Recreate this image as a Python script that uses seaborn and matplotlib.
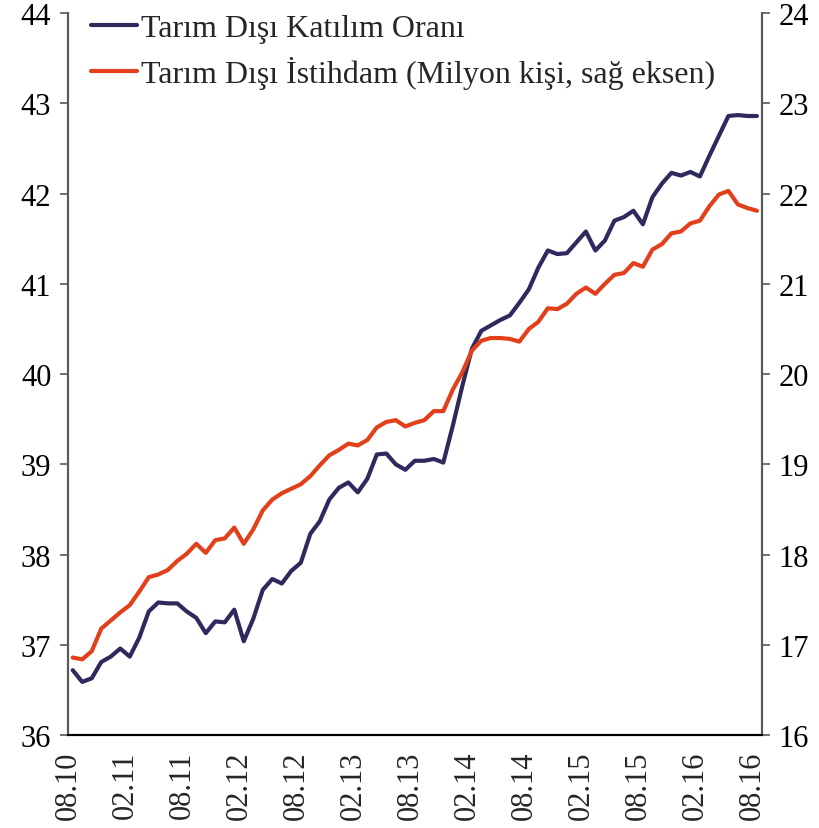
import matplotlib.pyplot as plt
import seaborn as sns
import numpy as np
import pandas as pd

# Monthly data, 08.2010 - 08.2016
katilim = [36.72, 36.59, 36.63, 36.81, 36.87, 36.96, 36.87, 37.08, 37.37, 37.47,
           37.46, 37.46, 37.37, 37.30, 37.13, 37.26, 37.25, 37.39, 37.04, 37.29,
           37.61, 37.73, 37.68, 37.82, 37.91, 38.23, 38.37, 38.61, 38.74, 38.80,
           38.69, 38.84, 39.11, 39.12, 39.00, 38.94, 39.04, 39.04, 39.06, 39.02,
           39.43, 39.87, 40.28, 40.48, 40.54, 40.60, 40.65, 40.79, 40.94, 41.18,
           41.37, 41.33, 41.34, 41.46, 41.58, 41.37, 41.48, 41.70, 41.74, 41.81,
           41.66, 41.96, 42.11, 42.23, 42.20, 42.24, 42.19, 42.42, 42.64, 42.86,
           42.87, 42.86, 42.86]

istihdam = [16.86, 16.84, 16.93, 17.18, 17.27, 17.36, 17.44, 17.59, 17.75, 17.78,
            17.83, 17.93, 18.01, 18.12, 18.02, 18.16, 18.18, 18.30, 18.12, 18.28,
            18.49, 18.61, 18.68, 18.73, 18.78, 18.87, 18.99, 19.10, 19.16, 19.23,
            19.21, 19.27, 19.41, 19.47, 19.49, 19.42, 19.46, 19.49, 19.59, 19.59,
            19.83, 20.02, 20.26, 20.37, 20.40, 20.40, 20.39, 20.36, 20.50, 20.58,
            20.73, 20.72, 20.78, 20.89, 20.96, 20.89, 21.00, 21.10, 21.12, 21.23,
            21.19, 21.38, 21.44, 21.56, 21.58, 21.67, 21.70, 21.86, 21.99, 22.03,
            21.88, 21.84, 21.81]

tick_labels = ["08.10", "02.11", "08.11", "02.12", "08.12", "02.13", "08.13",
               "02.14", "08.14", "02.15", "08.15", "02.16", "08.16"]

navy = "#2e2a5e"
orange = "#e2401b"

df = pd.DataFrame({"ay": np.arange(len(katilim)) + 0.5,
                   "katilim": katilim, "istihdam": istihdam})

sns.set_style("white")
plt.rcParams['font.family'] = ['Liberation Serif', 'DejaVu Serif']

fig = plt.figure(figsize=(8.19, 8.29), dpi=100)
ax = fig.add_axes([0.083, 0.112, 0.847, 0.871])
ax2 = ax.twinx()

sns.lineplot(data=df, x="ay", y="katilim", ax=ax, color=navy, linewidth=3.0,
             label="Tarım Dışı Katılım Oranı", legend=False)
sns.lineplot(data=df, x="ay", y="istihdam", ax=ax2, color=orange, linewidth=3.0,
             label="Tarım Dışı İstihdam (Milyon kişi, sağ eksen)", legend=False)

ax.set_xlim(0, 73)
ax.set_ylim(36, 44)
ax2.set_ylim(16, 24)
ax.set_yticks(np.arange(36, 45, 1))
ax2.set_yticks(np.arange(16, 25, 1))
ax.set_xticks(np.arange(0, 73, 6))
ax.set_xticklabels(tick_labels, rotation=90)
ax.set_xlabel("")
ax.set_ylabel("")
ax2.set_ylabel("")

for a in (ax, ax2):
    a.spines["top"].set_visible(False)
    a.spines["left"].set_color("#595959")
    a.spines["right"].set_color("#595959")
    a.spines["bottom"].set_color("black")
    for s in a.spines.values():
        s.set_linewidth(1.5)
    a.tick_params(direction="out", length=6, width=1.2, labelsize=22, pad=6)
ax.tick_params(axis="y", colors="#595959", labelcolor="black")
ax2.tick_params(axis="y", colors="#595959", labelcolor="black")
ax.tick_params(axis="x", length=7, pad=4)

h1, l1 = ax.get_legend_handles_labels()
h2, l2 = ax2.get_legend_handles_labels()
ax.legend(h1 + h2, l1 + l2, loc="upper left", bbox_to_anchor=(0.015, 1.017),
          frameon=False, fontsize=23, handlelength=1.45, handletextpad=0.1,
          labelspacing=0.42, borderaxespad=0)

fig.savefig("out.png", dpi=100)
